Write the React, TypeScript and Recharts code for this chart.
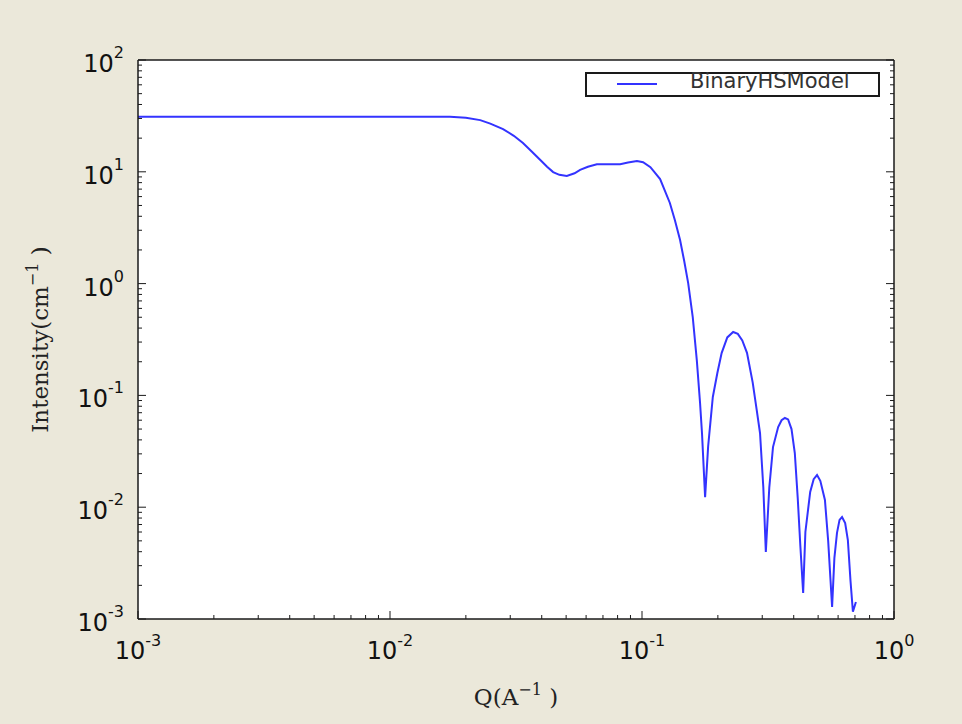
import { CartesianGrid, Legend, Line, LineChart, XAxis, YAxis } from 'recharts'

// Q (1/Å) and intensity (1/cm)
const qValues = [
  0.001, 0.002, 0.005, 0.01, 0.0173, 0.02, 0.0228, 0.025, 0.0281, 0.031, 0.0337, 0.0365,
  0.0394, 0.042, 0.0444, 0.047, 0.0503, 0.054, 0.0568, 0.061, 0.0662, 0.075, 0.0819, 0.088,
  0.0955, 0.101, 0.108, 0.118, 0.129, 0.135, 0.1416, 0.147, 0.1525, 0.159, 0.165, 0.17,
  0.173, 0.178, 0.183, 0.191, 0.199, 0.207, 0.218, 0.23, 0.24, 0.25, 0.261, 0.275,
  0.285, 0.294, 0.303, 0.31, 0.32, 0.331, 0.347, 0.358, 0.369, 0.38, 0.392, 0.404,
  0.415, 0.425, 0.436, 0.445, 0.465, 0.48, 0.495, 0.51, 0.532, 0.548, 0.568, 0.58,
  0.594, 0.608, 0.622, 0.64, 0.656, 0.672, 0.687, 0.706,
]
const intensity = [
  31, 31, 31, 31, 31, 30.5, 29, 27, 24.1, 21, 18.1, 15.2,
  12.8, 11.1, 9.95, 9.4, 9.17, 9.7, 10.4, 11.1, 11.7, 11.7, 11.7, 12.1,
  12.5, 12.2, 11, 8.6, 5.26, 3.7, 2.45, 1.6, 1.01, 0.502, 0.207, 0.085,
  0.0461, 0.0123, 0.035, 0.0968, 0.158, 0.239, 0.33, 0.369, 0.355, 0.31, 0.24, 0.13,
  0.075, 0.0461, 0.015, 0.00397, 0.015, 0.0345, 0.0521, 0.06, 0.0628, 0.061, 0.05, 0.0305,
  0.012, 0.0045, 0.00171, 0.006, 0.0137, 0.0178, 0.0194, 0.0172, 0.0116, 0.005, 0.00128, 0.0035,
  0.0059, 0.0077, 0.00817, 0.0072, 0.00509, 0.0022, 0.00116, 0.00142,
]

const xMajors = [0.001, 0.01, 0.1, 1]
const xExponents = ['-3', '-2', '-1', '0']
const yMajors = [0.001, 0.01, 0.1, 1, 10, 100]
const yExponents = ['-3', '-2', '-1', '0', '1', '2']
const minorSteps = [2, 3, 4, 5, 6, 7, 8, 9]

const seriesName = 'BinaryHSModel'

const data = qValues.map((q, i) => ({ q, intensity: intensity[i] }))

function withMinors(majors: number[]) {
  const out: number[] = []
  majors.forEach((m, i) => {
    out.push(m)
    if (i < majors.length - 1) minorSteps.forEach((s) => out.push(+(m * s).toPrecision(6)))
  })
  return out
}

const xTicks = withMinors(xMajors)
const yTicks = withMinors(yMajors)

const FRAME = '#1a1a1a'
const TICK_FONT = '"DejaVu Sans", sans-serif'
const LABEL_FONT = '"DejaVu Serif", serif'

type Side = 'bottom' | 'top' | 'left' | 'right'

function majorIndex(majors: number[], v: number) {
  return majors.findIndex((m) => Math.abs(Math.log10(m) - Math.log10(v)) < 1e-6)
}

function makeTick(side: Side, majors: number[], exps: string[] | null) {
  return function LogTick(props: any) {
    const { x, y, payload } = props
    const idx = majorIndex(majors, payload.value)
    const len = idx >= 0 ? 8 : 4
    let x2 = x
    let y2 = y
    if (side === 'bottom') y2 = y - len
    if (side === 'top') y2 = y + len
    if (side === 'left') x2 = x + len
    if (side === 'right') x2 = x - len
    let label = null
    if (exps && idx >= 0) {
      if (side === 'bottom') {
        label = (
          <text x={x} y={y + 40} textAnchor="middle" fontFamily={TICK_FONT} fontSize={24} fill="#111">
            <tspan>10</tspan>
            <tspan dy={-13} fontSize={16}>{exps[idx]}</tspan>
          </text>
        )
      } else {
        label = (
          <text x={x - 14} y={y + 12} textAnchor="end" fontFamily={TICK_FONT} fontSize={24} fill="#111">
            <tspan>10</tspan>
            <tspan dy={-14} fontSize={16}>{exps[idx]}</tspan>
          </text>
        )
      }
    }
    return (
      <g>
        <line x1={x} y1={y} x2={x2} y2={y2} stroke={FRAME} strokeWidth={1} />
        {label}
      </g>
    )
  }
}

function XLabel(props: any) {
  const { viewBox } = props
  const cx = viewBox.x + viewBox.width / 2
  return (
    <text x={cx} y={viewBox.y + 86} textAnchor="middle" fontFamily={LABEL_FONT} fontSize={23} fill="#222">
      <tspan>Q(A</tspan>
      <tspan dy={-10} fontSize={16}>−1</tspan>
      <tspan dy={10}> )</tspan>
    </text>
  )
}

function YLabel(props: any) {
  const { viewBox } = props
  const cy = viewBox.y + viewBox.height / 2
  const bx = 48
  return (
    <text
      x={bx}
      y={cy}
      transform={`rotate(-90, ${bx}, ${cy})`}
      textAnchor="middle"
      fontFamily={LABEL_FONT}
      fontSize={23}
      fill="#222"
    >
      <tspan>Intensity(cm</tspan>
      <tspan dy={-10} fontSize={16}>−1</tspan>
      <tspan dy={10}> )</tspan>
    </text>
  )
}

function LegendBox(props: any) {
  const item = props.payload?.[0]
  return (
    <div
      style={{
        position: 'relative',
        width: 295,
        height: 25,
        boxSizing: 'border-box',
        border: `2px solid ${FRAME}`,
        background: '#fff',
      }}
    >
      <div
        style={{
          position: 'absolute',
          left: 30,
          top: 9,
          width: 40,
          height: 2,
          background: item?.color ?? '#3333ff',
        }}
      />
      <span
        style={{
          position: 'absolute',
          left: 103,
          top: -5,
          fontFamily: TICK_FONT,
          fontSize: 21,
          lineHeight: '24px',
          color: '#333',
          whiteSpace: 'nowrap',
        }}
      >
        {item?.value ?? seriesName}
      </span>
    </div>
  )
}

export default function App() {
  return (
    <div
      style={{
        position: 'absolute',
        left: 0,
        top: 0,
        width: 962,
        height: 724,
        background: '#ebe8da',
      }}
    >
      <LineChart width={962} height={724} data={data} margin={{ top: 30, right: 38, left: 0, bottom: 0 }}>
        <CartesianGrid fill="#fff" horizontal={false} vertical={false} xAxisId="x" yAxisId="y" />
        <XAxis
          xAxisId="x"
          dataKey="q"
          type="number"
          scale="log"
          domain={[0.001, 1]}
          allowDataOverflow
          ticks={xTicks}
          interval={0}
          height={105}
          tickSize={0}
          tickMargin={0}
          tickLine={false}
          axisLine={{ stroke: FRAME, strokeWidth: 1.5 }}
          tick={makeTick('bottom', xMajors, xExponents)}
          label={<XLabel />}
        />
        <XAxis
          xAxisId="top"
          orientation="top"
          type="number"
          scale="log"
          domain={[0.001, 1]}
          allowDataOverflow
          ticks={xTicks}
          interval={0}
          height={30}
          tickSize={0}
          tickMargin={0}
          tickLine={false}
          axisLine={{ stroke: FRAME, strokeWidth: 1.5 }}
          tick={makeTick('top', xMajors, null)}
        />
        <YAxis
          yAxisId="y"
          type="number"
          scale="log"
          domain={[0.001, 100]}
          allowDataOverflow
          ticks={yTicks}
          interval={0}
          width={138}
          tickSize={0}
          tickMargin={0}
          tickLine={false}
          axisLine={{ stroke: FRAME, strokeWidth: 1.5 }}
          tick={makeTick('left', yMajors, yExponents)}
          label={<YLabel />}
        />
        <YAxis
          yAxisId="right"
          orientation="right"
          type="number"
          scale="log"
          domain={[0.001, 100]}
          allowDataOverflow
          ticks={yTicks}
          interval={0}
          width={30}
          tickSize={0}
          tickMargin={0}
          tickLine={false}
          axisLine={{ stroke: FRAME, strokeWidth: 1.5 }}
          tick={makeTick('right', yMajors, null)}
        />
        <Legend
          layout="vertical"
          align="center"
          verticalAlign="middle"
          content={<LegendBox />}
          wrapperStyle={{ position: 'absolute', left: 585, top: 72, width: 295, height: 25 }}
        />
        <Line
          xAxisId="x"
          yAxisId="y"
          name={seriesName}
          type="linear"
          dataKey="intensity"
          stroke="#3333ff"
          strokeWidth={2}
          dot={false}
          isAnimationActive={false}
        />
      </LineChart>
    </div>
  )
}
